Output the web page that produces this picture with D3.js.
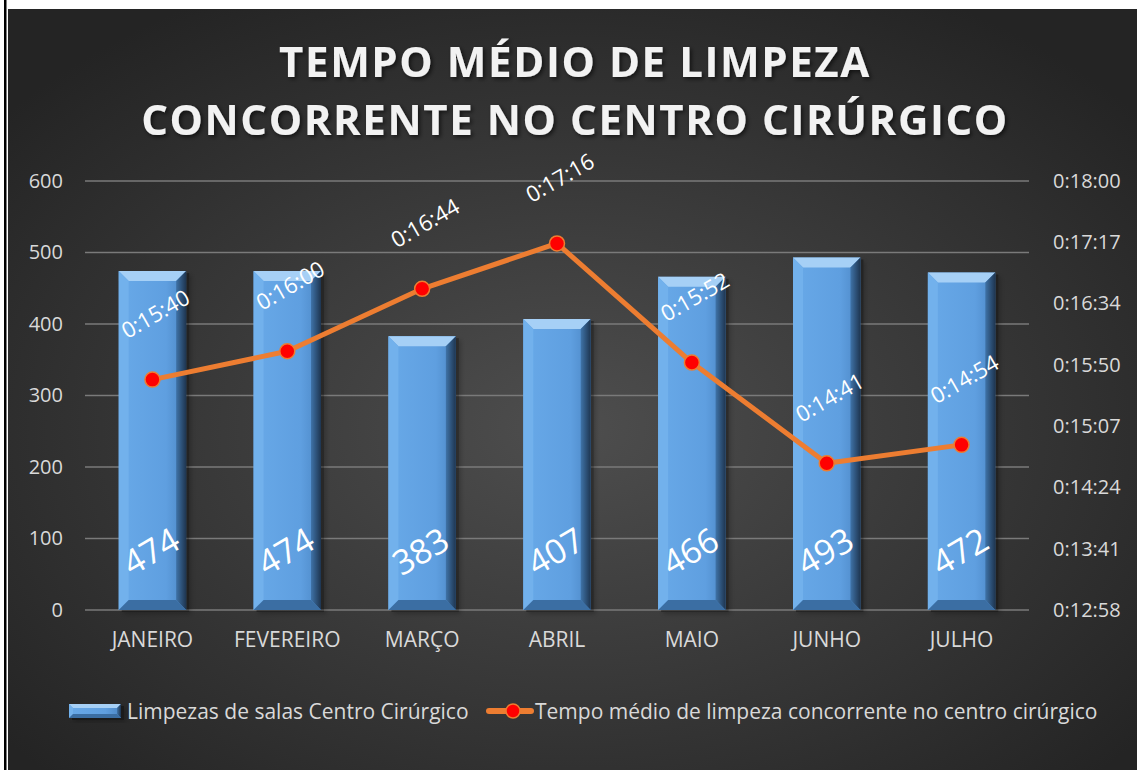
<!DOCTYPE html>
<html>
<head>
<meta charset="utf-8">
<script src="https://cdn.jsdelivr.net/npm/d3@7"></script>
<style>
  body { margin: 0; background: #fff; }
  svg { display: block; }
  text { font-family: "Open Sans", sans-serif; }
</style>
</head>
<body>
<svg id="chart"></svg>
<script>
const months = ["JANEIRO", "FEVEREIRO", "MARÇO", "ABRIL", "MAIO", "JUNHO", "JULHO"];
const limpezas = [474, 474, 383, 407, 466, 493, 472];
const tempos = ["0:15:40", "0:16:00", "0:16:44", "0:17:16", "0:15:52", "0:14:41", "0:14:54"];
const leftTicks = [0, 100, 200, 300, 400, 500, 600];
const timeMin = 777.6, timeMax = 1080, timeStep = 43.2; // seconds (Excel 0.0005 day steps)
const titleLines = ["TEMPO MÉDIO DE LIMPEZA", "CONCORRENTE NO CENTRO CIRÚRGICO"];
const legendLabels = ["Limpezas de salas Centro Cirúrgico", "Tempo médio de limpeza concorrente no centro cirúrgico"];

const W = 1137, H = 770;
const toSec = s => { const p = s.split(":").map(Number); return p[0]*3600 + p[1]*60 + p[2]; };
const fmtSec = v => { const t = Math.round(v); const m = Math.floor(t/60), s = t%60; return "0:" + String(m).padStart(2,"0") + ":" + String(s).padStart(2,"0"); };

const svg = d3.select("#chart").attr("width", W).attr("height", H);
const defs = svg.append("defs");

const bg = defs.append("radialGradient").attr("id", "bg")
  .attr("cx", "50%").attr("cy", "55%").attr("r", "65%");
bg.append("stop").attr("offset", "0%").attr("stop-color", "#4e4e4e");
bg.append("stop").attr("offset", "100%").attr("stop-color", "#242424");

const barGrad = defs.append("linearGradient").attr("id", "barFace").attr("x1", 0).attr("x2", 1);
barGrad.append("stop").attr("offset", "0%").attr("stop-color", "#68a9e8");
barGrad.append("stop").attr("offset", "70%").attr("stop-color", "#5f9fe0");
barGrad.append("stop").attr("offset", "100%").attr("stop-color", "#4b86c4");

const rightSide = defs.append("linearGradient").attr("id", "barRight").attr("x1", 0).attr("x2", 1);
rightSide.append("stop").attr("offset", "0%").attr("stop-color", "#3f73a8");
rightSide.append("stop").attr("offset", "100%").attr("stop-color", "#1e3550");

const shadow = defs.append("filter").attr("id", "shadow").attr("x", "-10%").attr("y", "-10%").attr("width", "130%").attr("height", "130%");
shadow.append("feDropShadow").attr("dx", 2).attr("dy", 2).attr("stdDeviation", 2).attr("flood-color", "#000").attr("flood-opacity", 0.6);

// frame
svg.append("rect").attr("width", W).attr("height", H).attr("fill", "#fff");
svg.append("rect").attr("x", 4).attr("y", 0).attr("width", 2.5).attr("height", H).attr("fill", "#000");
svg.append("rect").attr("x", 8).attr("y", 9).attr("width", W - 8).attr("height", H - 9).attr("fill", "url(#bg)");

// title
svg.append("text")
  .attr("text-anchor", "middle").attr("fill", "#f2f2f2")
  .attr("font-size", 42).attr("font-weight", 700).attr("letter-spacing", 1.6)
  .attr("filter", "url(#shadow)")
  .selectAll("tspan").data(titleLines).join("tspan")
  .attr("x", 575).attr("y", (d, i) => 77 + i * 58).text(d => d);

const x = d3.scaleBand().domain(months).range([85, 1029]).paddingInner(0.5).paddingOuter(0.25);
const y = d3.scaleLinear().domain([0, 600]).range([610, 181]);
const y2 = d3.scaleLinear().domain([timeMin, timeMax]).range([610, 181]);

// gridlines
svg.append("g").selectAll("line").data(leftTicks).join("line")
  .attr("x1", 85).attr("x2", 1029)
  .attr("y1", d => y(d)).attr("y2", d => y(d))
  .attr("stroke", "#7a7a7a").attr("stroke-width", 1.5);

// left axis
const leftAxis = svg.append("g").attr("transform", "translate(63,0)")
  .call(d3.axisLeft(y).tickValues(leftTicks).tickSize(0).tickPadding(0));
leftAxis.select(".domain").remove();
leftAxis.selectAll("text").attr("fill", "#d9d9d9").attr("font-size", 20).attr("font-family", "Open Sans");

// right axis
const rightTicks = d3.range(0, 8).map(i => timeMin + i * timeStep);
const rightAxis = svg.append("g").attr("transform", "translate(1053,0)")
  .call(d3.axisRight(y2).tickValues(rightTicks).tickFormat(fmtSec).tickSize(0).tickPadding(0));
rightAxis.select(".domain").remove();
rightAxis.selectAll("text").attr("fill", "#d9d9d9").attr("font-size", 20).attr("font-family", "Open Sans");

// category axis
const bottomAxis = svg.append("g").attr("transform", "translate(0,632)")
  .call(d3.axisBottom(x).tickSize(0).tickPadding(0));
bottomAxis.select(".domain").remove();
bottomAxis.selectAll("text").attr("fill", "#d9d9d9").attr("font-size", 21).attr("font-family", "Open Sans");

// bevelled bars
function bevelBar(g, x0, y0, w, h, b) {
  const x1 = x0 + w, y1 = y0 + h;
  g.append("rect").attr("x", x0 + 3).attr("y", y0 + 2).attr("width", w).attr("height", h)
    .attr("fill", "#000").attr("opacity", 0.35).attr("filter", "url(#shadow)");
  g.append("rect").attr("x", x0).attr("y", y0).attr("width", w).attr("height", h).attr("fill", "url(#barFace)");
  g.append("polygon").attr("points", [[x0, y0], [x1, y0], [x1 - b, y0 + b], [x0 + b, y0 + b]].join(" ")).attr("fill", "#a6d0f6");
  g.append("polygon").attr("points", [[x0, y0], [x0 + b, y0 + b], [x0 + b, y1 - b], [x0, y1]].join(" ")).attr("fill", "#72b1ec");
  g.append("polygon").attr("points", [[x1, y0], [x1 - b, y0 + b], [x1 - b, y1 - b], [x1, y1]].join(" ")).attr("fill", "url(#barRight)");
  g.append("polygon").attr("points", [[x0, y1], [x0 + b, y1 - b], [x1 - b, y1 - b], [x1, y1]].join(" ")).attr("fill", "#3b6ea3");
}
const bars = svg.append("g");
months.forEach((m, i) => {
  bevelBar(bars.append("g"), x(m), y(limpezas[i]), x.bandwidth(), y(0) - y(limpezas[i]), 10);
});

// bar labels
svg.append("g").selectAll("text").data(months).join("text")
  .attr("transform", (d, i) => `translate(${x(d) + x.bandwidth() / 2},${y(0) - 56}) rotate(-30)`)
  .attr("text-anchor", "middle").attr("dominant-baseline", "middle")
  .attr("fill", "#fff").attr("font-size", 34)
  .text((d, i) => limpezas[i]);

// line series
const pts = months.map((m, i) => [x(m) + x.bandwidth() / 2, y2(toSec(tempos[i]))]);
svg.append("path").attr("d", d3.line()(pts))
  .attr("fill", "none").attr("stroke", "#ed7d31").attr("stroke-width", 5).attr("stroke-linejoin", "round");
svg.append("g").selectAll("circle").data(pts).join("circle")
  .attr("cx", d => d[0]).attr("cy", d => d[1]).attr("r", 7.5)
  .attr("fill", "#ff0000").attr("stroke", "#ed7d31").attr("stroke-width", 1.5);

svg.append("g").selectAll("text").data(pts).join("text")
  .attr("transform", d => `translate(${d[0] + 4},${d[1] - 64}) rotate(-30)`)
  .attr("text-anchor", "middle").attr("dominant-baseline", "middle")
  .attr("fill", "#fff").attr("font-size", 22)
  .text((d, i) => tempos[i]);

// legend
const lg = svg.append("g");
bevelBar(lg, 69, 704, 52, 14, 4);
lg.append("text").attr("x", 127).attr("y", 719).attr("fill", "#d9d9d9").attr("font-size", 21).text(legendLabels[0]);
lg.append("line").attr("x1", 489).attr("x2", 531).attr("y1", 711).attr("y2", 711)
  .attr("stroke", "#ed7d31").attr("stroke-width", 6).attr("stroke-linecap", "round");
lg.append("circle").attr("cx", 513).attr("cy", 711).attr("r", 7)
  .attr("fill", "#ff0000").attr("stroke", "#ed7d31").attr("stroke-width", 1.5);
lg.append("text").attr("x", 535).attr("y", 719).attr("fill", "#d9d9d9").attr("font-size", 21).text(legendLabels[1]);
</script>
</body>
</html>
